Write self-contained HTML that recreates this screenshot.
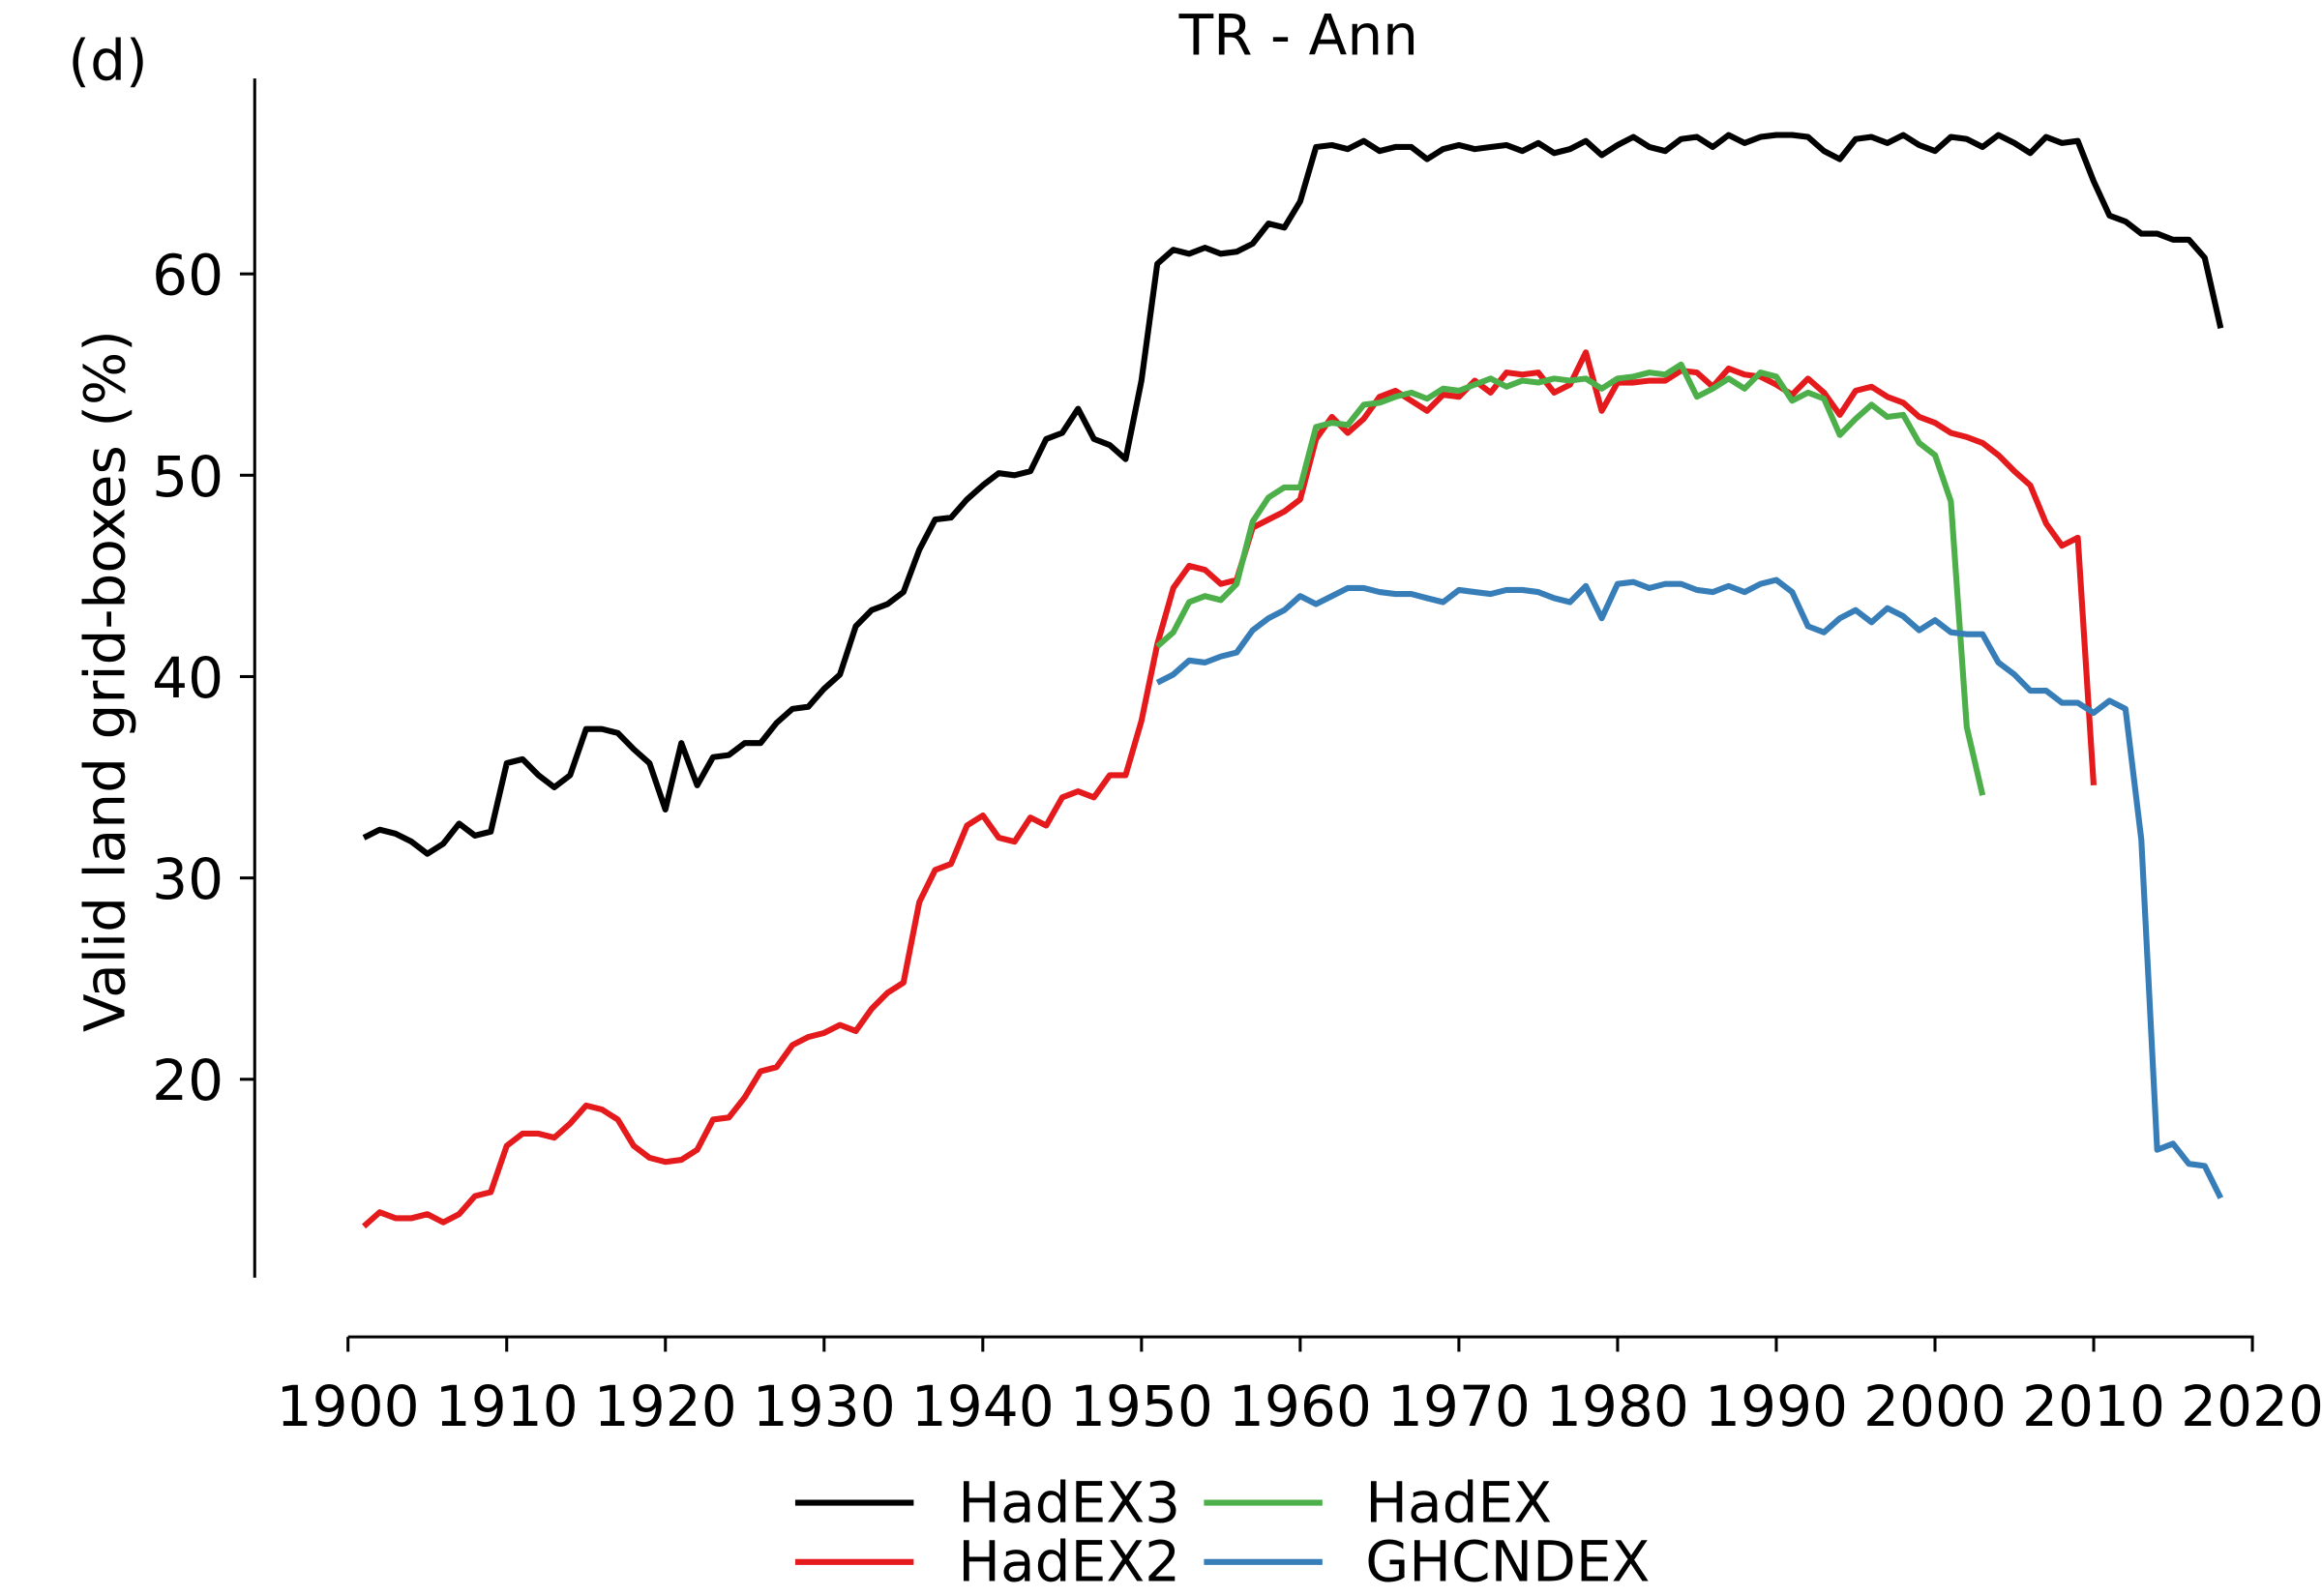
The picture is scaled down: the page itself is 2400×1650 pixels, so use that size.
<!DOCTYPE html>
<html><head><meta charset="utf-8"><style>
html,body{margin:0;padding:0;background:#fff;}
svg{display:block;}
text{font-family:"DejaVu Sans","Liberation Sans",sans-serif;fill:#000;}
</style></head><body>
<svg id="s" width="2400" height="1650" viewBox="0 0 1568 1078" xmlns="http://www.w3.org/2000/svg">
<rect width="1568" height="1078" fill="#fff"/>
<text x="877" y="37" font-size="38" text-anchor="middle">TR - Ann</text>
<text x="46" y="54" font-size="38">(d)</text>
<line x1="172" y1="53" x2="172" y2="863" stroke="#000" stroke-width="2"/>
<line x1="235" y1="903" x2="1522" y2="903" stroke="#000" stroke-width="2"/>
<g id="yt"></g><g id="xt"></g>
<text transform="translate(84,460) rotate(-90)" font-size="38" text-anchor="middle">Valid land grid-boxes (%)</text>
<g id="series" fill="none" stroke-width="4" stroke-linejoin="round"></g>
<g stroke-width="4">
<line x1="537" y1="1015" x2="617" y2="1015" stroke="#000"/>
<line x1="813" y1="1015" x2="893" y2="1015" stroke="#4daf4a"/>
<line x1="537" y1="1055" x2="617" y2="1055" stroke="#e41a1c"/>
<line x1="813" y1="1055" x2="893" y2="1055" stroke="#377eb8"/>
</g>
<text x="647" y="1028" font-size="38">HadEX3</text>
<text x="922" y="1028" font-size="38">HadEX</text>
<text x="647" y="1068" font-size="38">HadEX2</text>
<text x="922" y="1068" font-size="38">GHCNDEX</text>
</svg>
<script>
var NS="http://www.w3.org/2000/svg";
function X(yr){return 235+(yr-1900)*(1286/120);}
function Y(v){return 185+(60-v)*13.6;}
var yt=document.getElementById("yt"),xt=document.getElementById("xt");
[20,30,40,50,60].forEach(function(v){
 var l=document.createElementNS(NS,"line");l.setAttribute("x1",162);l.setAttribute("x2",172);l.setAttribute("y1",Y(v));l.setAttribute("y2",Y(v));l.setAttribute("stroke","#000");l.setAttribute("stroke-width",2);yt.appendChild(l);
 var t=document.createElementNS(NS,"text");t.setAttribute("x",151);t.setAttribute("y",Y(v)+14);t.setAttribute("font-size","38");t.setAttribute("text-anchor","end");t.textContent=v;yt.appendChild(t);
});
for(var yr=1900;yr<=2020;yr+=10){
 var l=document.createElementNS(NS,"line");l.setAttribute("x1",X(yr));l.setAttribute("x2",X(yr));l.setAttribute("y1",903);l.setAttribute("y2",913);l.setAttribute("stroke","#000");l.setAttribute("stroke-width",2);xt.appendChild(l);
 var t=document.createElementNS(NS,"text");t.setAttribute("x",X(yr));t.setAttribute("y",963);t.setAttribute("font-size","38");t.setAttribute("text-anchor","middle");t.textContent=yr;xt.appendChild(t);
}
var data=[
["#000",1901,[32,32.4,32.2,31.8,31.2,31.7,32.7,32.1,32.3,35.7,35.9,35.1,34.5,35.1,37.4,37.4,37.2,36.4,35.7,33.4,36.7,34.6,36,36.1,36.7,36.7,37.7,38.4,38.5,39.4,40.1,42.5,43.3,43.6,44.2,46.3,47.8,47.9,48.8,49.5,50.1,50,50.2,51.8,52.1,53.3,51.8,51.5,50.8,54.7,60.5,61.2,61,61.3,61,61.1,61.5,62.5,62.3,63.6,66.3,66.4,66.2,66.6,66.1,66.3,66.3,65.7,66.2,66.4,66.2,66.3,66.4,66.1,66.5,66,66.2,66.6,65.9,66.4,66.8,66.3,66.1,66.7,66.8,66.3,66.9,66.5,66.8,66.9,66.9,66.8,66.1,65.7,66.7,66.8,66.5,66.9,66.4,66.1,66.8,66.7,66.3,66.9,66.5,66,66.8,66.5,66.6,64.6,62.9,62.6,62,62,61.7,61.7,60.8,57.3]],
["#e41a1c",1901,[12.7,13.4,13.1,13.1,13.3,12.9,13.3,14.2,14.4,16.7,17.3,17.3,17.1,17.8,18.7,18.5,18,16.7,16.1,15.9,16,16.5,18,18.1,19.1,20.4,20.6,21.7,22.1,22.3,22.7,22.4,23.5,24.3,24.8,28.8,30.4,30.7,32.6,33.1,32,31.8,33,32.6,34,34.3,34,35.1,35.1,37.8,41.6,44.4,45.5,45.3,44.6,44.8,47.4,47.8,48.2,48.8,51.8,52.9,52.1,52.8,53.9,54.2,53.7,53.2,54,53.9,54.7,54.1,55.1,55,55.1,54.1,54.5,56.1,53.2,54.6,54.6,54.7,54.7,55.2,55.1,54.4,55.3,55,54.9,54.5,54,54.8,54.1,53,54.2,54.4,53.9,53.6,52.9,52.6,52.1,51.9,51.6,51,50.2,49.5,47.6,46.5,46.9,34.6]],
["#4daf4a",1951,[41.5,42.2,43.7,44,43.8,44.6,47.7,48.9,49.4,49.4,52.4,52.6,52.5,53.5,53.6,53.9,54.1,53.8,54.3,54.2,54.5,54.8,54.4,54.7,54.6,54.8,54.7,54.8,54.3,54.8,54.9,55.1,55,55.5,53.9,54.3,54.8,54.3,55.1,54.9,53.7,54.1,53.8,52,52.8,53.5,52.9,53,51.6,51,48.7,37.5,34.1]],
["#377eb8",1951,[39.7,40.1,40.8,40.7,41,41.2,42.3,42.9,43.3,44,43.6,44,44.4,44.4,44.2,44.1,44.1,43.9,43.7,44.3,44.2,44.1,44.3,44.3,44.2,43.9,43.7,44.5,42.9,44.6,44.7,44.4,44.6,44.6,44.3,44.2,44.5,44.2,44.6,44.8,44.2,42.5,42.2,42.9,43.3,42.7,43.4,43,42.3,42.8,42.2,42.1,42.1,40.7,40.1,39.3,39.3,38.7,38.7,38.2,38.8,38.4,31.9,16.5,16.8,15.8,15.7,14.1]]
];
var g=document.getElementById("series");
data.forEach(function(d){
 var pts=d[2].map(function(v,i){return X(d[1]+i).toFixed(1)+","+Y(v).toFixed(1);}).join(" ");
 var p=document.createElementNS(NS,"polyline");p.setAttribute("points",pts);p.setAttribute("stroke",d[0]);g.appendChild(p);
});
</script>
</body></html>
